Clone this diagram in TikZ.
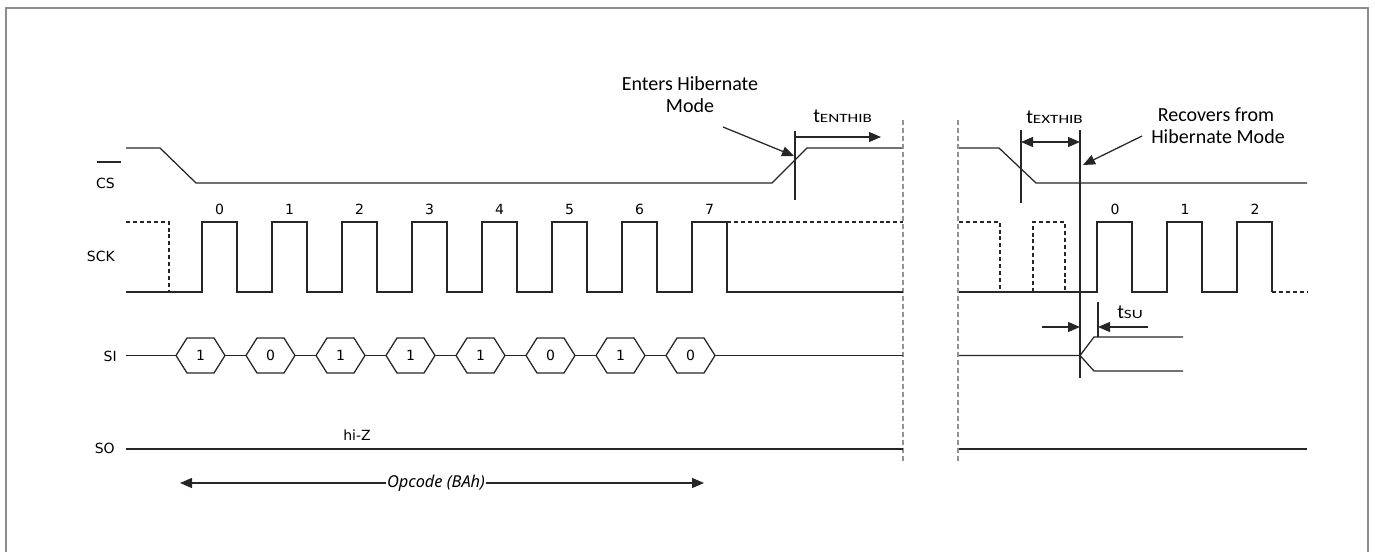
\documentclass[tikz,border=0pt]{standalone}
\usepackage{fontspec}
\usepackage{graphicx}
\usetikzlibrary{arrows.meta}
\newfontfamily\dejavu{DejaVu Sans}
\newfontfamily\carlito{Carlito}
\newfontfamily\notosans{Noto Sans}
\newcommand{\tlbl}[1]{{\carlito\fontsize{15}{17}\selectfont t\scalebox{1.35}[1]{\fontsize{9.5}{11}\selectfont #1}}}
\tikzset{
  sig/.style={line width=0.95pt, draw=black!85},
  dsig/.style={sig, dash pattern=on 3pt off 2.2pt},
  gapline/.style={draw=gray!85, line width=1.4pt, dash pattern=on 4pt off 2pt},
  frameline/.style={draw=gray!90, line width=1.6pt},
  lbl/.style={font=\dejavu\fontsize{10.5}{12}\selectfont, inner sep=0pt},
  ann/.style={font=\carlito\fontsize{15}{17}\selectfont, inner sep=0pt, align=center},
  tipa/.style={-{Triangle[length=9pt,width=7.5pt]}},
  tipb/.style={{Triangle[length=9pt,width=7.5pt]}-{Triangle[length=9pt,width=7.5pt]}},
  hexa/.style={sig}
}
\begin{document}
\begin{tikzpicture}[x=0.75pt,y=-0.75pt]
\useasboundingbox (0,0) rectangle (1375,552);
% frame
\draw[frameline] (6,552) -- (6,8) -- (1368,8) -- (1368,552);

% gap lines
\draw[gapline] (903,120) -- (903,462);
\draw[gapline] (958,120) -- (958,462);

% signal labels
\node[lbl, anchor=base east] (lcs) at (115,189) {CS};
\draw[sig] (97,162) -- (121,162);
\node[lbl, anchor=base east] (lsck) at (115,262) {SCK};
\node[lbl, anchor=base east] (lsi) at (117,361.5) {SI};
\node[lbl, anchor=base east] (lso) at (115,453) {SO};

% ---------- CS left ----------
\draw[sig] (126,148) -- (160,148) -- (196,183) -- (772,183) -- (807,148) -- (902,148);
% ---------- CS right ----------
\draw[sig] (959,148) -- (999,148) -- (1036,183) -- (1307,183);

% ---------- SCK left ----------
\draw[dsig] (126,222) -- (169,222) -- (169,292);
\draw[sig] (126,292) -- (202,292)
  \foreach \k in {0,...,7} { -- ({202+70*\k},292) -- ({202+70*\k},222) -- ({237+70*\k},222) -- ({237+70*\k},292) }
  -- (903,292);
\draw[dsig] (727,222) -- (903,222);
\foreach \k in {0,...,7} {
  \node[lbl, anchor=base] (ck\k) at ({219.5+70*\k},215) {\k};
}

% ---------- SCK right ----------
\draw[dsig] (959,222) -- (1000,222) -- (1000,292);
\draw[dsig] (1033,292) -- (1033,222) -- (1065,222) -- (1065,292);
\draw[sig] (959,292) -- (1097,292)
  \foreach \k in {0,1,2} { -- ({1097+70*\k},292) -- ({1097+70*\k},222) -- ({1132+70*\k},222) -- ({1132+70*\k},292) }
  ;
\draw[sig] (1202,292) -- (1237,292);
\draw[dsig] (1272,292) -- (1307,292);
\foreach \k in {0,1,2} {
  \node[lbl, anchor=base] (rck\k) at ({1115+70*\k},215) {\k};
}

% ---------- SI left ----------
\draw[sig] (126,355.5) -- (176,355.5);
\foreach \b [count=\i from 0] in {1,0,1,1,1,0,1,0} {
  \pgfmathsetmacro{\cx}{200.5+70*\i}
  \draw[hexa] ({\cx-24.5},355.5) -- ({\cx-13.5},338) -- ({\cx+13.5},338) -- ({\cx+24.5},355.5) -- ({\cx+13.5},373) -- ({\cx-13.5},373) -- cycle;
  \node[lbl] (bit\i) at (\cx,355.5) {\b};
}
\foreach \i in {0,...,6} {
  \draw[sig] ({225+70*\i},355.5) -- ({246+70*\i},355.5);
}
\draw[sig] (715,355.5) -- (903,355.5);

% ---------- SI right ----------
\draw[sig] (959,355.5) -- (1080,355.5) -- (1094,337) -- (1183,337);
\draw[sig] (1080,355.5) -- (1094,371) -- (1183,371);

% ---------- SO ----------
\draw[sig] (126,449) -- (903,449);
\draw[sig] (959,449) -- (1307,449);
\node[lbl, anchor=base] (hiz) at (357,440.5) {hi-Z};

% ---------- Opcode ----------
\coordinate (opl) at (180,483);
\coordinate (opr) at (704,483);
\node[font=\notosans\itshape\fontsize{12.3}{14}\selectfont, fill=white, inner sep=0.5pt] (opc) at (436,483) {Opcode (BAh)};
\draw[sig, tipa] (opc.west) -- (opl);
\draw[sig, tipa] (opc.east) -- (opr);

% ---------- Enters Hibernate ----------
\node[ann, anchor=base] (ent1) at (690,90.5) {Enters Hibernate};
\node[ann, anchor=base] (ent2) at (690,113) {Mode};
\coordinate (ea) at (723,127);
\coordinate (eb) at (794,156);
\draw[sig, tipa] (ea) -- (eb);
\coordinate (mt) at (795,131);
\coordinate (mb) at (795,200);
\draw[sig] (mt) -- (mb);
\coordinate (tea) at (795,137);
\coordinate (teb) at (881,137);
\draw[sig, tipa] (tea) -- (teb);
\node[anchor=base west, inner sep=0pt] (tent) at (813,123) {\tlbl{ENTHIB}};

% ---------- Exit hibernate ----------
\coordinate (xt1) at (1021,130);
\coordinate (xb1) at (1021,203);
\draw[sig] (xt1) -- (xb1);
\coordinate (xt2) at (1080,130);
\coordinate (xb2) at (1080,378);
\draw[sig] (xt2) -- (xb2);
\coordinate (xa) at (1021,142);
\coordinate (xb) at (1080,142);
\draw[sig, tipb] (xa) -- (xb);
\node[anchor=base west, inner sep=0pt] (text) at (1026,124) {\tlbl{EXTHIB}};

\node[ann, anchor=base] (rec1) at (1216,122) {Recovers from};
\node[ann, anchor=base] (rec2) at (1218,143.5) {Hibernate Mode};
\coordinate (ra) at (1142,136);
\coordinate (rb) at (1083,165);
\draw[sig, tipa] (ra) -- (rb);

% ---------- tSU ----------
\coordinate (st) at (1098,302);
\coordinate (sb) at (1098,337);
\draw[sig] (st) -- (sb);
\coordinate (sl) at (1042,327);
\coordinate (slt) at (1080,327);
\draw[sig, tipa] (sl) -- (slt);
\coordinate (sr) at (1148,327);
\coordinate (srt) at (1098,327);
\draw[sig, tipa] (sr) -- (srt);
\node[anchor=base west, inner sep=0pt] (tsu) at (1117,319) {\tlbl{SU}};
\end{tikzpicture}
\end{document}
